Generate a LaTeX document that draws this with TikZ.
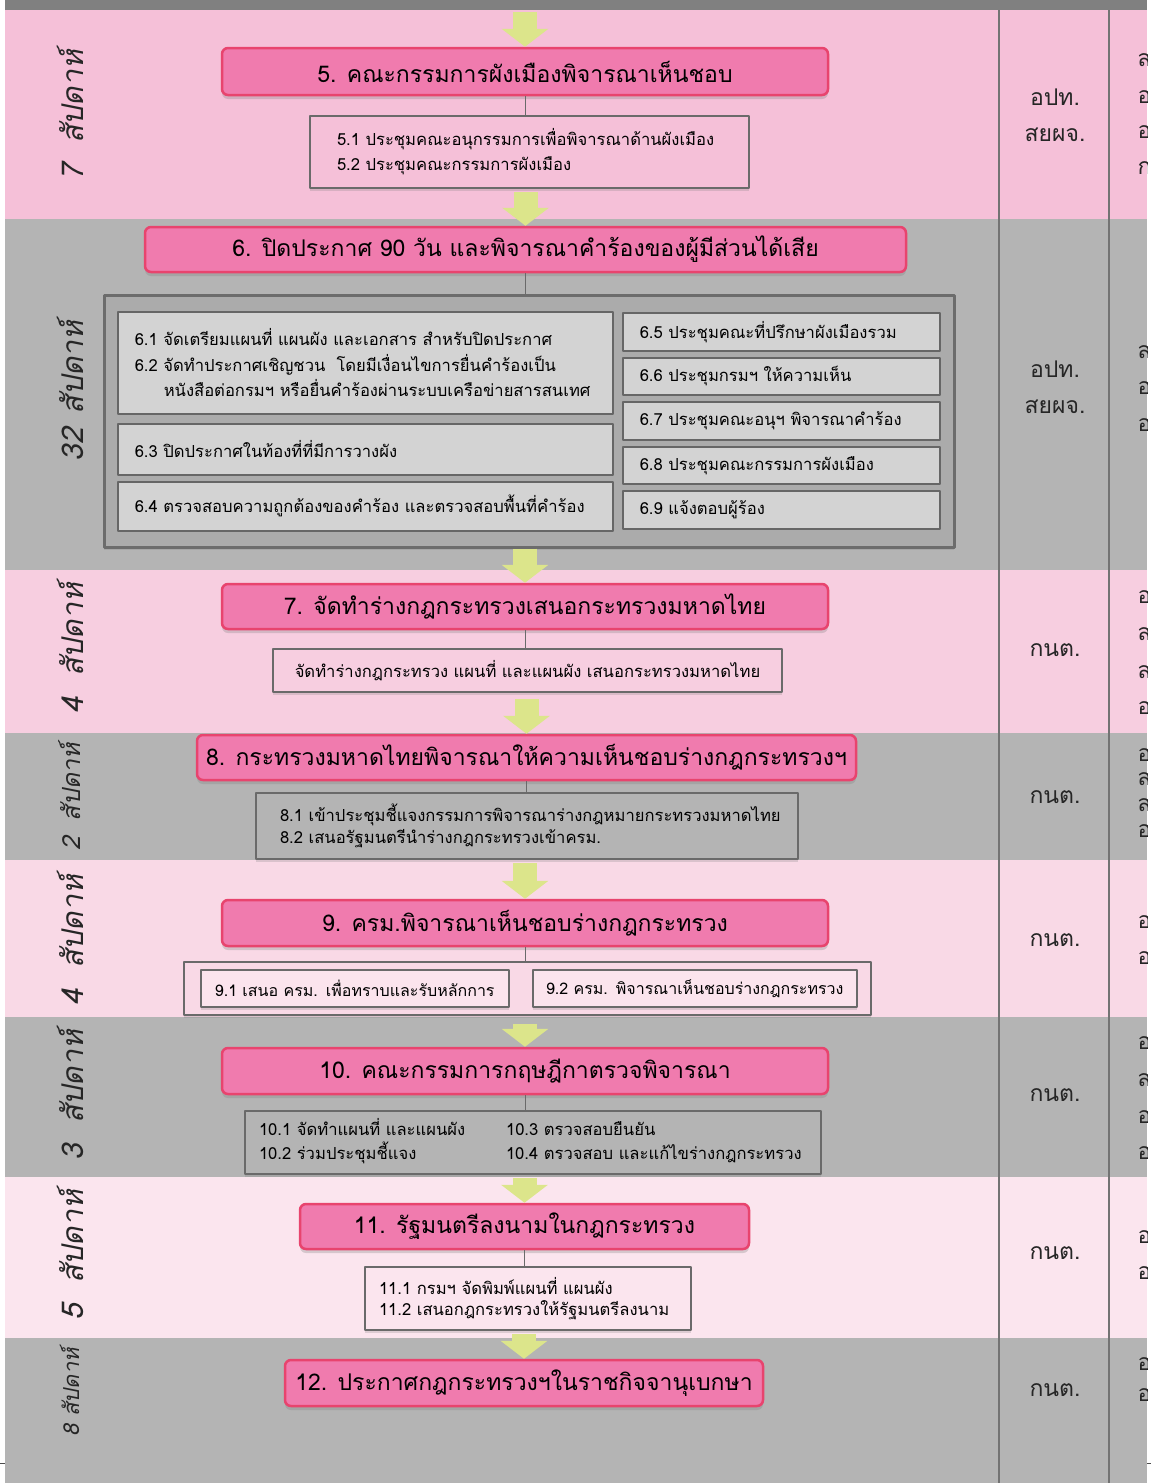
\documentclass[tikz,border=0pt]{standalone}
\usepackage{fontspec}
\usetikzlibrary{arrows.meta,shadows}
\newfontfamily\thai[Script=Thai]{Loma}
\newfontfamily\thaisl[Script=Thai,FakeSlant=0.2]{Loma}
\definecolor{bandA}{HTML}{F5C0D8}
\definecolor{bandB}{HTML}{F7CEE0}
\definecolor{bandC}{HTML}{F9D9E6}
\definecolor{bandD}{HTML}{FBE5EE}
\definecolor{bandgray}{HTML}{B4B4B4}
\definecolor{topgray}{HTML}{808080}
\definecolor{boxfill}{HTML}{F07BAE}
\definecolor{boxline}{HTML}{E8446E}
\definecolor{subline}{HTML}{6A6A6A}
\definecolor{flowcol}{HTML}{DCE58B}
\definecolor{innerfill}{HTML}{D3D3D3}
\definecolor{contfill}{HTML}{ABABAB}
\begin{document}
\begin{tikzpicture}[x=1pt, y=-1pt, font=\thai, line join=round,
    mainbox/.style={draw=boxline, line width=2.5pt, fill=boxfill, rounded corners=6pt,
      inner sep=0pt, font=\thai\fontsize{23}{28}\selectfont,
      drop shadow={opacity=.3, shadow xshift=0pt, shadow yshift=-4pt}},
    subbox/.style={draw=subline, line width=2pt, anchor=north west, inner ysep=0pt,
      align=left, font=\thai\fontsize{16.6}{25}\selectfont,
      drop shadow={opacity=.25, shadow xshift=0pt, shadow yshift=-3pt}},
    inbox/.style={draw=gray!80!black, line width=1.5pt, fill=innerfill, anchor=north west,
      inner xsep=17pt, inner ysep=0pt, align=left, font=\thai\fontsize{16.6}{25.5}\selectfont},
    link/.style={draw=subline, line width=1pt},
    flow/.style={draw=flowcol, line width=24pt, -{Triangle[length=18pt,width=46pt]}},
    weeks/.style={rotate=90, font=\thaisl\fontsize{30}{30}\selectfont, text=black!85},
    agency/.style={align=center, font=\thai\fontsize{23}{36}\selectfont, text=black!85},
    edgetxt/.style={anchor=west, font=\thai\fontsize{23}{23}\selectfont, text=black!85}]
\useasboundingbox (0,0) rectangle (1151,1483);
% bands
\fill[topgray] (5,0) rectangle (1147,10);
\fill[bandA] (5,10) rectangle (1147,219);
\fill[bandgray] (5,219) rectangle (1147,570);
\fill[bandB] (5,570) rectangle (1147,733);
\fill[bandgray] (5,733) rectangle (1147,860);
\fill[bandC] (5,860) rectangle (1147,1017);
\fill[bandgray] (5,1017) rectangle (1147,1177);
\fill[bandD] (5,1177) rectangle (1147,1338);
\fill[bandgray] (5,1338) rectangle (1147,1483);
\draw[black!70, line width=.6pt] (0,1463) -- (5,1463) (1147,1463) -- (1151,1463);
\draw[gray!90!black, line width=2pt] (999,10) -- (999,1483) (1109,10) -- (1109,1483);

% weeks
\node[weeks] (w5) at (70,115) {7\hspace{20pt}สัปดาห์};
\node[weeks] (w6) at (70,391) {32\hspace{14pt}สัปดาห์};
\node[weeks] (w7) at (70,648) {4\hspace{20pt}สัปดาห์};
\node[weeks, font=\thaisl\fontsize{25}{25}\selectfont] (w8) at (70,797) {2\hspace{16pt}สัปดาห์};
\node[weeks] (w9) at (70,940) {4\hspace{20pt}สัปดาห์};
\node[weeks] (w10) at (70,1095) {3\hspace{20pt}สัปดาห์};
\node[weeks] (w11) at (70,1255) {5\hspace{20pt}สัปดาห์};
\node[weeks, font=\thaisl\fontsize{22}{22}\selectfont] (w12) at (70,1392) {8 สัปดาห์};

% agencies
\node[agency] (a5) at (1055,115) {อปท.\\สยผจ.};
\node[agency] (a6) at (1055,387) {อปท.\\สยผจ.};
\node[agency] (a7) at (1055,650) {กนต.};
\node[agency] (a8) at (1055,797) {กนต.};
\node[agency] (a9) at (1055,940) {กนต.};
\node[agency] (a10) at (1055,1095) {กนต.};
\node[agency] (a11) at (1055,1253) {กนต.};
\node[agency] (a12) at (1055,1390) {กนต.};

% cut-off column
\begin{scope}
\clip (1110,10) rectangle (1147,1483);
\foreach \y/\t in {60/ส,97/อ,132/อ,168/ก,352/ส,388/อ,425/อ,597/อ,634/ส,672/ส,708/อ,
    755/อ,779/ส,805/ส,831/อ,922/อ,958/อ,1043/อ,1080/ส,1117/อ,1153/อ,1237/อ,1273/อ,1364/อ,1395/อ}
  \node[edgetxt] at (1134,\y) {\t};
\end{scope}

% step 5
\node[mainbox, minimum width=606pt, minimum height=47pt] (s5) at (525,71.5) {5. คณะกรรมการผังเมืองพิจารณาเห็นชอบ};
\node[subbox, fill=bandA, minimum height=72pt, inner xsep=27pt, text width=385pt] (d5) at (309,115)
  {5.1 ประชุมคณะอนุกรรมการเพื่อพิจารณาด้านผังเมือง\\5.2 ประชุมคณะกรรมการผังเมือง};

% step 6
\node[mainbox, minimum width=761pt, minimum height=45pt] (s6) at (525.5,249.5) {6. ปิดประกาศ 90 วัน และพิจารณาคำร้องของผู้มีส่วนได้เสีย};
\node[draw=gray!85!black, line width=2.5pt, fill=contfill, anchor=north west, minimum width=850pt, minimum height=252pt,
  drop shadow={opacity=.25, shadow xshift=0pt, shadow yshift=-3pt}] (c6) at (103,294) {};
\node[inbox, minimum height=102pt, text width=461pt] (d61) at (117,311)
  {6.1 จัดเตรียมแผนที่ แผนผัง และเอกสาร สำหรับปิดประกาศ\\6.2 จัดทำประกาศเชิญชวน\ \ โดยมีเงื่อนไขการยื่นคำร้องเป็น\\\hspace*{29pt}หนังสือต่อกรมฯ หรือยื่นคำร้องผ่านระบบเครือข่ายสารสนเทศ};
\node[inbox, minimum height=51pt, text width=461pt] (d63) at (117,423) {6.3 ปิดประกาศในท้องที่ที่มีการวางผัง};
\node[inbox, minimum height=49pt, text width=461pt] (d64) at (117,481) {6.4 ตรวจสอบความถูกต้องของคำร้อง และตรวจสอบพื้นที่คำร้อง};
\node[inbox, minimum height=38pt, text width=283pt] (d65) at (622,312) {6.5 ประชุมคณะที่ปรึกษาผังเมืองรวม};
\node[inbox, minimum height=37pt, text width=283pt] (d66) at (622,357) {6.6 ประชุมกรมฯ ให้ความเห็น};
\node[inbox, minimum height=38pt, text width=283pt] (d67) at (622,401) {6.7 ประชุมคณะอนุฯ พิจารณาคำร้อง};
\node[inbox, minimum height=37pt, text width=283pt] (d68) at (622,446) {6.8 ประชุมคณะกรรมการผังเมือง};
\node[inbox, minimum height=38pt, text width=283pt] (d69) at (622,490) {6.9 แจ้งตอบผู้ร้อง};

% step 7
\node[mainbox, minimum width=606pt, minimum height=45pt] (s7) at (525,606.5) {7. จัดทำร่างกฎกระทรวงเสนอกระทรวงมหาดไทย};
\node[subbox, fill=bandB, minimum height=43pt, inner xsep=20pt, text width=469pt, align=center] (d7) at (272,648)
  {จัดทำร่างกฎกระทรวง แผนที่ และแผนผัง เสนอกระทรวงมหาดไทย};

% step 8
\node[mainbox, minimum width=659pt, minimum height=45pt] (s8) at (526.5,757.5) {8. กระทรวงมหาดไทยพิจารณาให้ความเห็นชอบร่างกฎกระทรวงฯ};
\node[subbox, fill=bandgray, minimum height=66pt, inner xsep=24pt, text width=494pt,
  font=\thai\fontsize{16.6}{22}\selectfont] (d8) at (255,792)
  {8.1 เข้าประชุมชี้แจงกรรมการพิจารณาร่างกฎหมายกระทรวงมหาดไทย\\8.2 เสนอรัฐมนตรีนำร่างกฎกระทรวงเข้าครม.};

% step 9
\node[mainbox, minimum width=606pt, minimum height=46pt] (s9) at (525,923) {9. ครม.พิจารณาเห็นชอบร่างกฎกระทรวง};
\node[subbox, fill=bandC, minimum width=687pt, minimum height=53pt] (c9) at (183,961) {};
\node[subbox, fill=bandC!70!white, line width=1.5pt, drop shadow={opacity=0}, minimum height=37pt,
  inner xsep=4pt, text width=300pt, align=center, font=\thai\fontsize{16}{20}\selectfont] (d91) at (200,969)
  {9.1 เสนอ ครม. เพื่อทราบและรับหลักการ};
\node[subbox, fill=bandC!70!white, line width=1.5pt, drop shadow={opacity=0}, minimum height=37pt,
  inner xsep=4pt, text width=316pt, align=center, font=\thai\fontsize{16}{20}\selectfont] (d92) at (532,969)
  {9.2 ครม. พิจารณาเห็นชอบร่างกฎกระทรวง};

% step 10
\node[mainbox, minimum width=606pt, minimum height=46pt] (s10) at (525,1071) {10. คณะกรรมการกฤษฎีกาตรวจพิจารณา};
\node[subbox, fill=bandgray, minimum height=63pt, inner xsep=14pt, text width=548pt,
  font=\thai\fontsize{16.6}{21}\selectfont] (d10) at (244,1110)
  {\begin{tabular}{@{}p{247pt}@{}l@{}}10.1 จัดทำแผนที่ และแผนผัง & 10.3 ตรวจสอบยืนยัน\\10.2 ร่วมประชุมชี้แจง & 10.4 ตรวจสอบ และแก้ไขร่างกฎกระทรวง\end{tabular}};

% step 11
\node[mainbox, minimum width=449pt, minimum height=45pt] (s11) at (524.5,1226.5) {11. รัฐมนตรีลงนามในกฎกระทรวง};
\node[subbox, fill=bandD, minimum height=63pt, inner xsep=14pt, text width=298pt,
  font=\thai\fontsize{16.6}{21}\selectfont] (d11) at (364,1266)
  {11.1 กรมฯ จัดพิมพ์แผนที่ แผนผัง\\11.2 เสนอกฎกระทรวงให้รัฐมนตรีลงนาม};

% step 12
\node[mainbox, minimum width=478pt, minimum height=46pt] (s12) at (524,1383) {12. ประกาศกฎกระทรวงฯในราชกิจจานุเบกษา};

% links
\draw[link] (s5.south) -- (s5.south |- d5.north);
\draw[link] (s6.south) -- (s6.south |- c6.north);
\draw[link] (s7.south) -- (s7.south |- d7.north);
\draw[link] (s8.south) -- (s8.south |- d8.north);
\draw[link] (s9.south) -- (s9.south |- c9.north);
\draw[link] (s10.south) -- (s10.south |- d10.north);
\draw[link] (s11.south) -- (s11.south |- d11.north);

% flow arrows
\coordinate (start) at (525,10);
\draw[flow, shorten <=2pt] (start) -- (s5.north);
\draw[flow, shorten <=3pt] (s6.north |- d5.south) -- (s6.north);
\draw[flow] (s7.north |- c6.south) -- (s7.north);
\draw[flow, shorten <=6pt] (s8.north |- d7.south) -- (s8.north);
\draw[flow, shorten <=3pt] (s9.north |- d8.south) -- (s9.north);
\draw[flow, shorten <=8pt] (s10.north |- c9.south) -- (s10.north);
\draw[flow, shorten <=3pt] (s11.north |- d10.south) -- (s11.north);
\draw[flow, shorten <=3pt] (s12.north |- d11.south) -- (s12.north);
\end{tikzpicture}
\end{document}
